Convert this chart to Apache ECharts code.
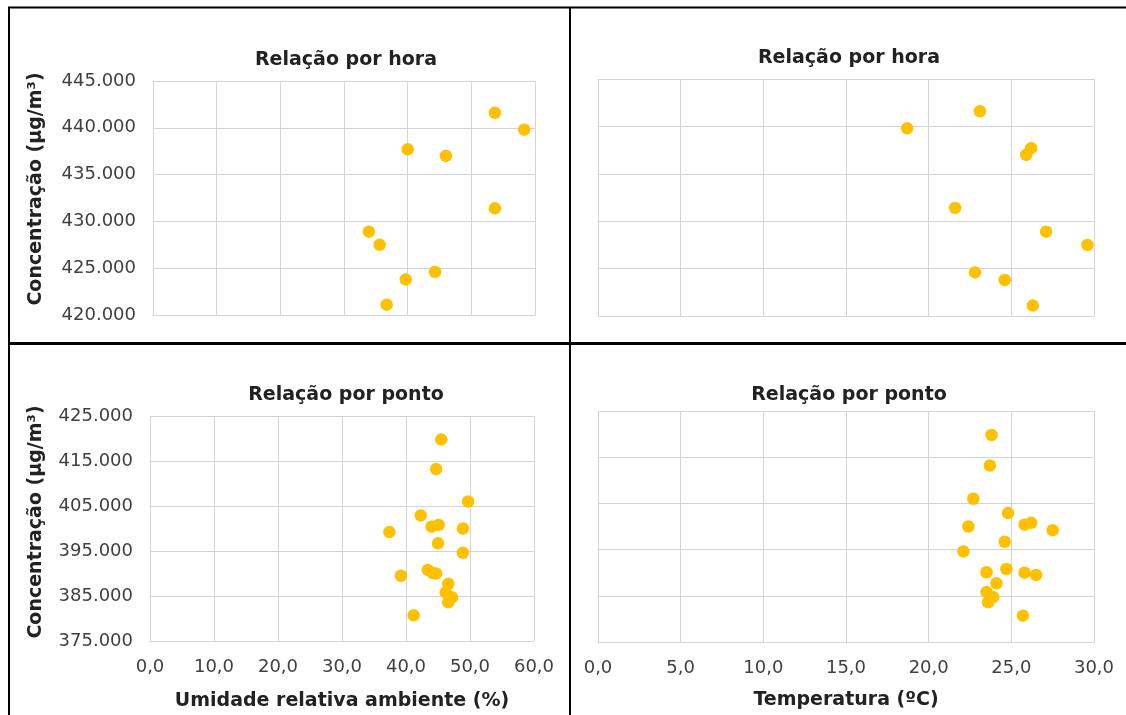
<!DOCTYPE html>
<html>
<head>
<meta charset="utf-8">
<script src="https://cdn.jsdelivr.net/npm/echarts@6/dist/echarts.min.js"></script>
<style>
  html, body { margin: 0; padding: 0; background: #fff; }
  #chart { width: 1126px; height: 715px; }
</style>
</head>
<body>
<div id="chart"></div>
<script>
// Hourly readings: relative humidity (%), temperature (ºC), concentration (µg/m³)
const horaUmidade = [53.7, 58.3, 40.0, 46.0, 53.7, 33.9, 35.6, 44.3, 39.7, 36.7];
const horaTemperatura = [23.1, 18.7, 26.2, 25.9, 21.6, 27.1, 29.6, 22.8, 24.6, 26.3];
const horaConcentracao = [441600, 439800, 437700, 437000, 431400, 428900, 427500, 424600, 423800, 421100];

// Readings per sampling point
const pontoUmidade = [45.5, 44.7, 49.7, 42.3, 45.1, 44.0, 48.9, 37.4, 45.0, 48.9, 43.4, 44.2, 44.7, 39.2, 46.6, 46.2, 47.2, 46.6, 41.2];
const pontoTemperatura = [23.8, 23.7, 22.7, 24.8, 26.2, 25.8, 22.4, 27.5, 24.6, 22.1, 24.7, 23.5, 25.8, 26.5, 24.1, 23.5, 23.9, 23.6, 25.7];
const pontoConcentracao = [419800, 413200, 406000, 402900, 400800, 400400, 400000, 399200, 396700, 394600, 390800, 390100, 390000, 389500, 387700, 385800, 384700, 383600, 380700];

// Panel texts
const tituloHora = 'Relação por hora';
const tituloPonto = 'Relação por ponto';
const nomeEixoY = 'Concentração (µg/m³)';
const nomeUmidade = 'Umidade relativa ambiente (%)';
const nomeTemperatura = 'Temperatura (ºC)';

const pares = (xs, ys) => xs.map((x, i) => [x, ys[i]]);
const fmtMil = v => Math.round(v).toString().replace(/\B(?=(\d{3})+(?!\d))/g, '.');
const fmtDec = v => v.toFixed(1).replace('.', ',');

const FONT = 'DejaVu Sans';
const GRID_COLOR = '#d4d4d4';
const LABEL_COLOR = '#404040';
const TITLE_COLOR = '#222222';
const MARK_COLOR = '#FFC000';

function xAxis(gridIndex, max, interval, showLabels, name, nameGap) {
  return {
    type: 'value', gridIndex, min: 0, max, interval,
    axisLine: { show: true, lineStyle: { color: GRID_COLOR, width: 1 } },
    axisTick: { show: false },
    splitLine: { show: true, lineStyle: { color: GRID_COLOR, width: 1 } },
    axisLabel: { show: showLabels, margin: 17, fontFamily: FONT, fontSize: 18, color: LABEL_COLOR, formatter: fmtDec },
    name: name || '', nameLocation: 'middle', nameGap: nameGap || 0,
    nameTextStyle: { fontFamily: FONT, fontSize: 19, fontWeight: 'bold', color: TITLE_COLOR }
  };
}

function yAxis(gridIndex, min, max, interval, showLabels) {
  return {
    type: 'value', gridIndex, min, max, interval,
    axisLine: { show: false },
    axisTick: { show: false },
    splitLine: { show: true, lineStyle: { color: GRID_COLOR, width: 1 } },
    axisLabel: { show: showLabels, margin: 17, fontFamily: FONT, fontSize: 18, color: LABEL_COLOR, formatter: fmtMil }
  };
}

function scatter(idx, data) {
  return {
    type: 'scatter', xAxisIndex: idx, yAxisIndex: idx, data,
    symbol: 'circle', symbolSize: 12.5,
    itemStyle: { color: MARK_COLOR, opacity: 1 },
    emphasis: { disabled: true }
  };
}

function titulo(text, x, y) {
  return {
    type: 'text', x, y, silent: true,
    style: {
      text, fill: TITLE_COLOR, font: 'bold 19px "' + FONT + '"',
      align: 'center', verticalAlign: 'middle', textAlign: 'center', textVerticalAlign: 'middle'
    }
  };
}

function tituloVertical(text, x, y) {
  const t = titulo(text, x, y);
  t.rotation = Math.PI / 2;
  return t;
}

function linha(x1, y1, x2, y2, w) {
  return { type: 'line', silent: true, shape: { x1, y1, x2, y2 }, style: { stroke: '#000', lineWidth: w } };
}

const chart = echarts.init(document.getElementById('chart'), null, { renderer: 'canvas' });

chart.setOption({
  animation: false,
  backgroundColor: '#ffffff',
  grid: [
    { left: 153, top: 81, width: 382, height: 234, containLabel: false, outerBoundsMode: 'none' },
    { left: 598, top: 79, width: 496, height: 237, containLabel: false, outerBoundsMode: 'none' },
    { left: 150, top: 416, width: 384, height: 225, containLabel: false, outerBoundsMode: 'none' },
    { left: 598, top: 411, width: 496, height: 231, containLabel: false, outerBoundsMode: 'none' }
  ],
  xAxis: [
    xAxis(0, 60, 10, false),
    xAxis(1, 30, 5, false),
    xAxis(2, 60, 10, true, nomeUmidade, 51),
    xAxis(3, 30, 5, true, nomeTemperatura, 49)
  ],
  yAxis: [
    yAxis(0, 420000, 445000, 5000, true),
    yAxis(1, 420000, 445000, 5000, false),
    yAxis(2, 375000, 425000, 10000, true),
    yAxis(3, 375000, 425000, 10000, false)
  ],
  series: [
    scatter(0, pares(horaUmidade, horaConcentracao)),
    scatter(1, pares(horaTemperatura, horaConcentracao)),
    scatter(2, pares(pontoUmidade, pontoConcentracao)),
    scatter(3, pares(pontoTemperatura, pontoConcentracao))
  ],
  graphic: [
    titulo(tituloHora, 346, 60),
    titulo(tituloHora, 849, 58),
    titulo(tituloPonto, 346, 395),
    titulo(tituloPonto, 849, 395),
    tituloVertical(nomeEixoY, 36, 189),
    tituloVertical(nomeEixoY, 36, 522),
    // panel frame
    linha(8, 7.5, 1126, 7.5, 2),
    linha(9, 7, 9, 715, 2),
    linha(570, 7, 570, 715, 2),
    linha(8, 343.5, 1126, 343.5, 3)
  ]
});
</script>
</body>
</html>
